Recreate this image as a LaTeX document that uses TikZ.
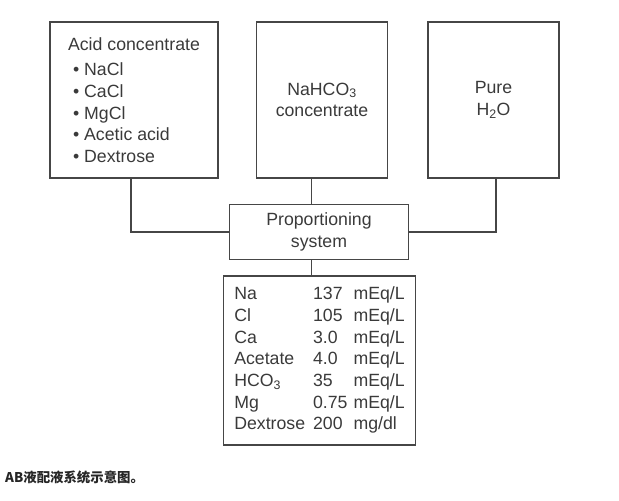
\documentclass[tikz,border=0pt]{standalone}
\usepackage{fontspec}
\setmainfont{Liberation Sans}
\newfontfamily\cjk{Noto Sans CJK SC}
\usetikzlibrary{positioning}
\definecolor{linegray}{RGB}{70,70,70}
\definecolor{textgray}{RGB}{58,58,58}

\begin{document}
\begin{tikzpicture}[x=1pt, y=-1pt,
    box/.style = {draw=linegray, line width=1.5pt, text=textgray, inner sep=0pt, align=center,
                  font=\fontsize{17.7}{21.7}\selectfont},
    tall/.style = {box, minimum width=131pt, minimum height=156pt},
    link/.style = {draw=linegray, line width=1.5pt}]
    \useasboundingbox (0,0) rectangle (619,501);
    \node[box, minimum width=168pt, minimum height=156pt, align=left] (acid) at (134,100)
        {Acid concentrate\\[4pt]
         \hspace{5pt}\textbullet\ NaCl\\
         \hspace{5pt}\textbullet\ CaCl\\
         \hspace{5pt}\textbullet\ MgCl\\
         \hspace{5pt}\textbullet\ Acetic acid\\
         \hspace{5pt}\textbullet\ Dextrose};
    \node[tall] (bicarb) [right=37pt of acid] {NaHCO\textsubscript{3}\\concentrate};
    \node[tall] (water) [right=39pt of bicarb] {Pure\\H\textsubscript{2}O};
    \node[box, minimum width=179pt, minimum height=55pt] (prop) [below=25pt of bicarb, xshift=-3pt]
        {Proportioning\\system};
    \node[box, minimum width=192pt, minimum height=169pt] (result) [below=15pt of prop, xshift=0.5pt]
        {\begin{tabular}{@{}l@{\hspace{8pt}}l@{\hspace{6pt}}l@{}}
         Na & 137 & mEq/L\\
         Cl & 105 & mEq/L\\
         Ca & 3.0 & mEq/L\\
         Acetate & 4.0 & mEq/L\\
         HCO\textsubscript{3} & 35 & mEq/L\\
         Mg & 0.75 & mEq/L\\
         Dextrose & 200 & mg/dl
         \end{tabular}};
    \node[anchor=west, inner sep=0pt, text=black!85, font=\cjk\bfseries\fontsize{13.4}{16}\selectfont]
        (caption) at (5,477) {AB液配液系统示意图。};
    \draw[link] ([xshift=-3pt]acid.south) |- (prop.west);
    \draw[link] ([xshift=-10.5pt]bicarb.south) -- ([xshift=-7.5pt]prop.north);
    \draw[link] ([xshift=2.5pt]water.south) |- (prop.east);
    \draw[link] ([xshift=-7.5pt]prop.south) -- ([xshift=-8pt]result.north);
\end{tikzpicture}
\end{document}
